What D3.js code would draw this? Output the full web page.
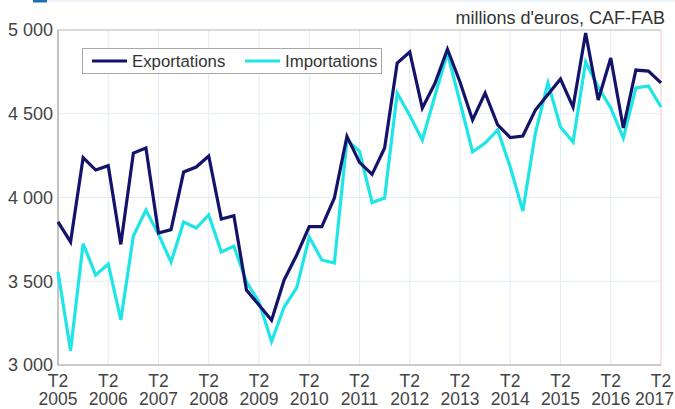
<!DOCTYPE html>
<html><head><meta charset="utf-8">
<script src="https://cdn.jsdelivr.net/npm/d3@7"></script>
<style>body{margin:0;background:#fff;}svg{display:block;font-family:"Liberation Sans",Arial,sans-serif;}</style>
</head><body><svg id="c" width="675" height="409"></svg>
<script>
const quarters = d3.range(49); // T2 2005 .. T2 2017
const years = d3.range(2005, 2018);
const exportations = [3855,3735,4238,4164,4190,3720,4265,4295,3788,3808,4152,4182,4248,3872,3891,3448,3358,3267,3508,3657,3826,3826,3997,4365,4210,4138,4296,4803,4869,4534,4680,4885,4690,4463,4624,4433,4358,4367,4522,4615,4707,4540,4982,4582,4833,4415,4761,4755,4684];
const importations = [3557,3085,3725,3537,3603,3269,3770,3925,3780,3615,3854,3818,3896,3675,3710,3496,3376,3140,3346,3460,3764,3627,3609,4343,4275,3970,3997,4624,4490,4343,4606,4863,4570,4272,4325,4403,4182,3920,4385,4684,4421,4331,4809,4660,4534,4355,4654,4666,4540];
const yTicks = [3000,3500,4000,4500,5000];
const seriesNames = ["Exportations","Importations"];
const colors = ["#14136b","#1ee6e6"];

const svg = d3.select("#c");
const L=58, R=661, T=30, B=365;
const x = d3.scaleLinear().domain([0,48]).range([L,R]);
const y = d3.scaleLinear().domain([3000,5000]).range([B,T]);
const fmt = v => d3.format(",")(v).replace(",", " ");
const FS = 18;

// header decoration
svg.append("rect").attr("x",33).attr("y",0).attr("width",14).attr("height",2.5).attr("fill","#1f6fb5");
svg.append("line").attr("x1",47).attr("x2",675).attr("y1",1).attr("y2",1).attr("stroke","#e6eef5").attr("stroke-width",1.5);

// grid
svg.append("g").selectAll("line").data(years.slice(1,-1)).join("line")
  .attr("x1",d=>x((d-2005)*4)).attr("x2",d=>x((d-2005)*4)).attr("y1",T).attr("y2",B)
  .attr("stroke","#e2ecf6").attr("stroke-width",1);
svg.append("g").selectAll("line").data(yTicks.slice(1,-1)).join("line")
  .attr("x1",L).attr("x2",R).attr("y1",d=>y(d)).attr("y2",d=>y(d))
  .attr("stroke","#e2ecf6").attr("stroke-width",1);

// frame
svg.append("line").attr("x1",L).attr("x2",R).attr("y1",T).attr("y2",T).attr("stroke","#b4b4b4").attr("stroke-width",1.2);
svg.append("line").attr("x1",R).attr("x2",R).attr("y1",T).attr("y2",B).attr("stroke","#f6d0d0").attr("stroke-width",1.2);
svg.append("line").attr("x1",L).attr("x2",L).attr("y1",T).attr("y2",B).attr("stroke","#9a9a9a").attr("stroke-width",1.2);
svg.append("line").attr("x1",L).attr("x2",R).attr("y1",B).attr("y2",B).attr("stroke","#9a9a9a").attr("stroke-width",1.2);

// y axis labels
const yAxis = d3.axisLeft(y).tickValues(yTicks).tickFormat(fmt).tickSize(0).tickPadding(5);
const ga = svg.append("g").attr("transform",`translate(${L},0)`).call(yAxis);
ga.select(".domain").remove();
ga.selectAll("text").attr("font-size",FS).attr("fill","#444").attr("font-family","Liberation Sans, Arial, sans-serif");

// x labels
const xl = svg.append("g").selectAll("g").data(years).join("g")
  .attr("transform",d=>`translate(${x((d-2005)*4)},0)`);
xl.append("text").attr("y",386.5).attr("text-anchor","middle").attr("font-size",17.5).attr("fill","#444").text("T2");
xl.append("text").attr("y",405).attr("font-size",17.5).attr("fill","#444")
  .attr("text-anchor",d=>d===2017?"end":"middle").attr("x",d=>d===2017?13:0).text(d=>d);

// lines
const line = d3.line().x((d,i)=>x(quarters[i])).y(d=>y(d));
[importations, exportations].forEach((s,k)=>{
  const c = k===0 ? colors[1] : colors[0];
  svg.append("path").datum(s).attr("d",line).attr("fill","none").attr("stroke",c).attr("stroke-width",3.2).attr("stroke-linejoin","miter");
});

// legend
svg.append("rect").attr("x",82.5).attr("y",48.5).attr("width",299).attr("height",25).attr("fill","#fff").attr("stroke","#a8a8a8");
const lg = [{x:92,tx:132},{x:245,tx:285}];
seriesNames.forEach((n,i)=>{
  svg.append("line").attr("x1",lg[i].x).attr("x2",lg[i].x+35).attr("y1",61).attr("y2",61).attr("stroke",colors[i]).attr("stroke-width",3.2);
  svg.append("text").attr("x",lg[i].tx).attr("y",67).attr("font-size",16.8).attr("fill","#333").text(n);
});

// unit
svg.append("text").attr("x",665).attr("y",24).attr("text-anchor","end").attr("font-size",FS).attr("fill","#333").text("millions d'euros, CAF-FAB");
</script></body></html>
